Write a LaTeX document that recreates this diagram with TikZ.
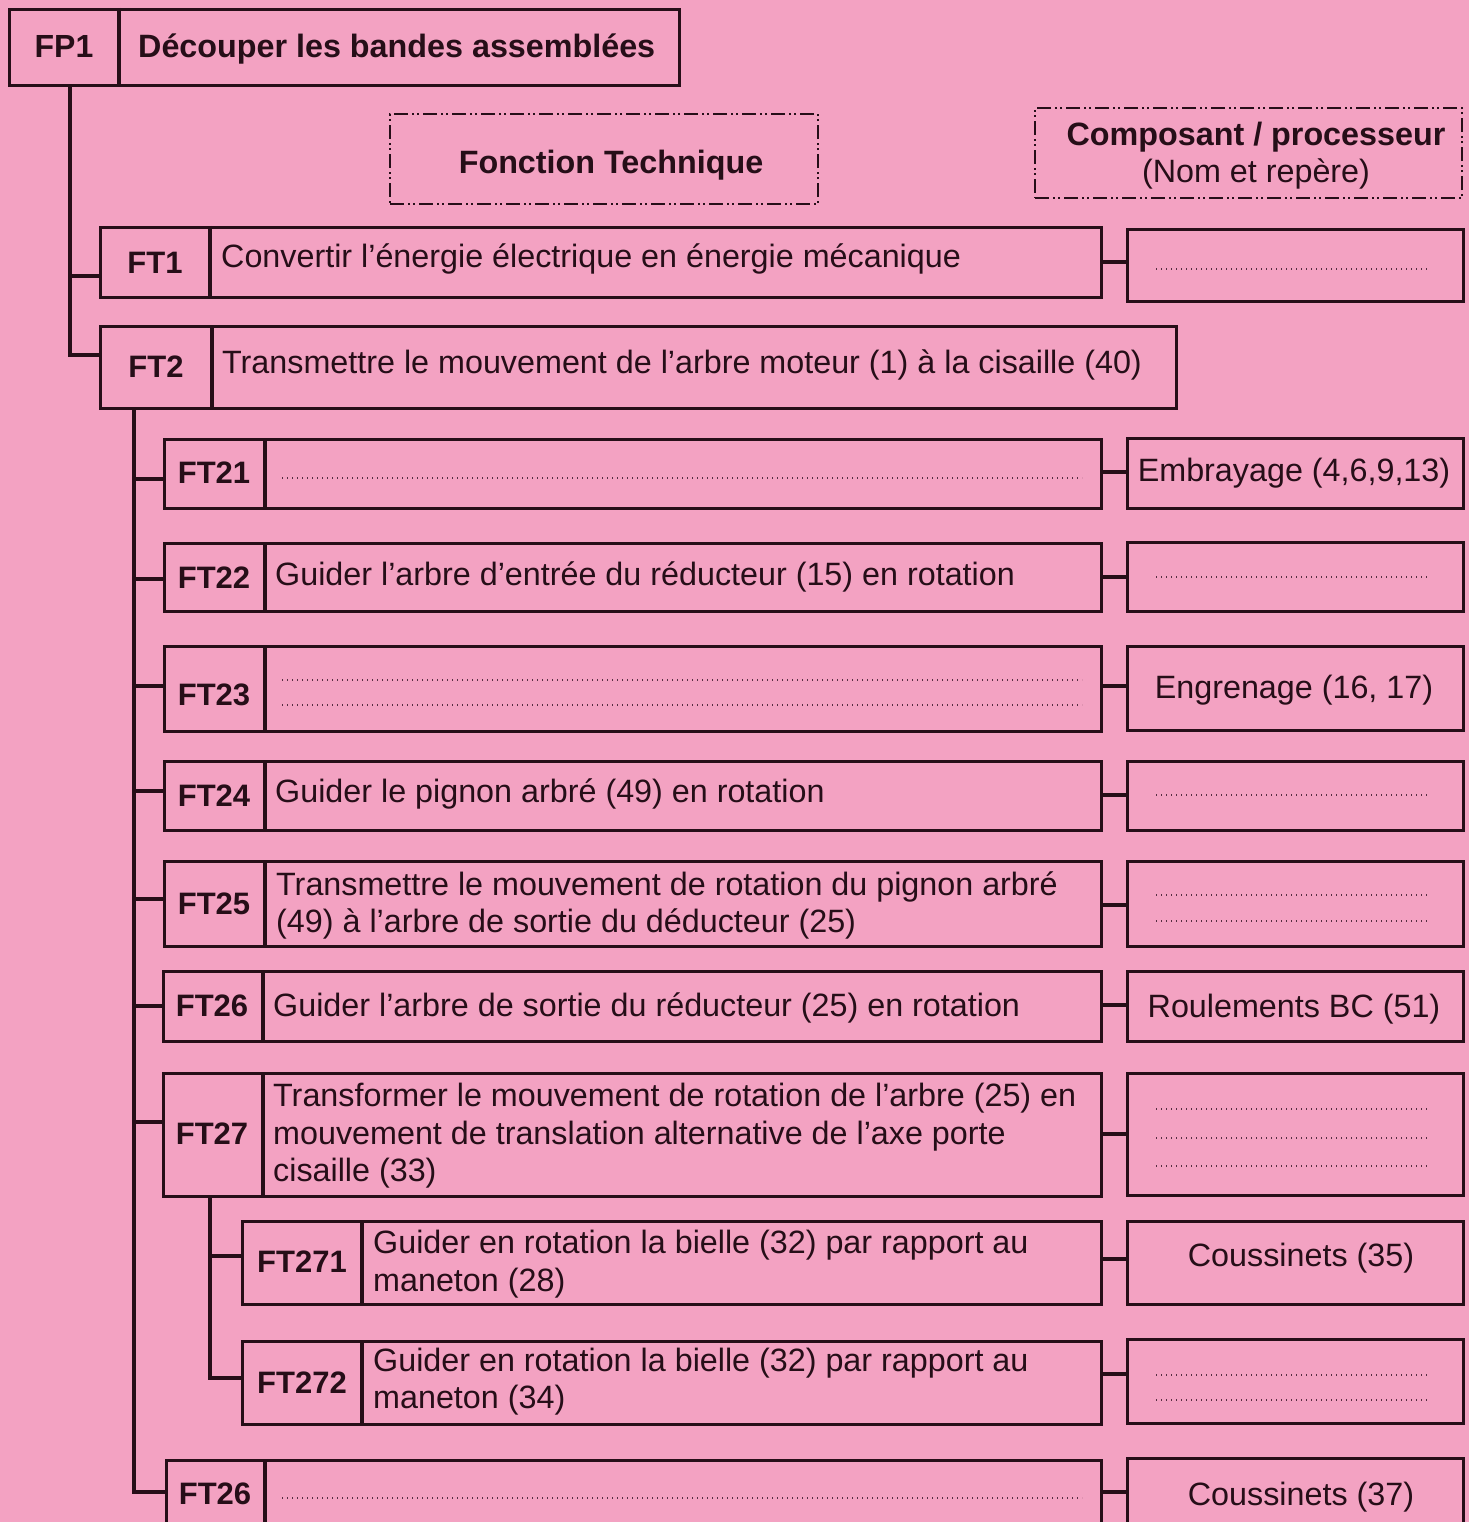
\documentclass[tikz,border=0pt]{standalone}
\usepackage{fontspec}
\setmainfont{Liberation Sans}
\definecolor{bg}{RGB}{243,162,194}
\definecolor{ink}{RGB}{38,14,24}
\definecolor{dotc}{RGB}{85,45,65}
\newcommand\mkbox[5]{\node[box, minimum width={#4-#2}, minimum height={#5-#3}] (#1) at (#2,#3) {};}
\newcommand\mkrow[6]{\mkbox{#1}{#2}{#5}{#4}{#6}\draw[link] (#3,#5) -- (#3,#6);}
\begin{document}
\begin{tikzpicture}[x=1pt,y=-1pt,
  box/.style={draw=ink, line width=3.2pt, rectangle, inner sep=0pt, anchor=north west},
  link/.style={draw=ink, line width=3.2pt},
  lab/.style={font=\fontsize{31}{36}\selectfont\bfseries, text=ink, inner sep=0pt},
  txt/.style={font=\fontsize{32.3}{37.5}\selectfont, text=ink, inner sep=0pt, anchor=base west},
  ctxt/.style={font=\fontsize{32.3}{37.5}\selectfont, text=ink, inner sep=0pt, anchor=base},
  btxt/.style={font=\fontsize{32.3}{37.5}\selectfont\bfseries, text=ink, inner sep=0pt, anchor=base},
  dots/.style={draw=dotc, line width=1.4pt, dash pattern=on 1.4pt off 3.6pt},
  legend/.style={draw=ink, line width=2.3pt, rectangle, inner sep=0pt, anchor=north west,
    dash pattern=on 14pt off 4pt on 2pt off 3pt on 2pt off 4pt},
]
\fill[bg] (0,0) rectangle (1469,1522);
\useasboundingbox (0,0) rectangle (1469,1522);
\clip (0,0) rectangle (1469,1522);

% FP1
\mkrow{fp1}{8}{119}{678}{8}{84}
\node[lab, font=\fontsize{32}{38}\selectfont\bfseries] (fp1l) at (64,46) {FP1};
\node[btxt, anchor=base west] (fp1t) at (138,58) {Découper les bandes assemblées};

% legends
\node[legend, minimum width=428pt, minimum height=90pt] (leg1) at (389,113) {};
\node[btxt] (leg1t) at (611,174) {Fonction Technique};
\node[legend, minimum width=427pt, minimum height=90pt] (leg2) at (1034,107) {};
\node[btxt] (leg2a) at (1256,146) {Composant / processeur};
\node[ctxt] (leg2b) at (1256,183) {(Nom et repère)};

% FT1
\mkrow{ft1}{99}{210}{1100}{226}{296}
\node[lab] (ft1l) at (155,263) {FT1};
\node[txt] (ft1t) at (221,268) {Convertir l’énergie électrique en énergie mécanique};
\mkbox{c1}{1126}{228}{1462}{300}
\draw[dots] (1156,269) -- (1430,269);

% FT2
\mkrow{ft2}{99}{212}{1175}{325}{407}
\node[lab] (ft2l) at (156,367) {FT2};
\node[txt] (ft2t) at (222,373) {Transmettre le mouvement de l’arbre moteur (1) à la cisaille (40)};

% FT21
\mkrow{ft21}{163}{265}{1100}{438}{507}
\node[lab] (ft21l) at (214,473) {FT21};
\draw[dots] (282,478) -- (1082,478);
\mkbox{c21}{1126}{437}{1462}{507}
\node[ctxt] (c21t) at (1294,481) {Embrayage (4,6,9,13)};

% FT22
\mkrow{ft22}{163}{265}{1100}{542}{610}
\node[lab] (ft22l) at (214,578) {FT22};
\node[txt] (ft22t) at (275,585) {Guider l’arbre d’entrée du réducteur (15) en rotation};
\mkbox{c22}{1126}{541}{1462}{610}
\draw[dots] (1156,577) -- (1430,577);

% FT23
\mkrow{ft23}{163}{265}{1100}{645}{730}
\node[lab] (ft23l) at (214,695) {FT23};
\draw[dots] (282,680) -- (1082,680);
\draw[dots] (282,705) -- (1082,705);
\mkbox{c23}{1126}{645}{1462}{729}
\node[ctxt] (c23t) at (1294,698) {Engrenage (16, 17)};

% FT24
\mkrow{ft24}{163}{265}{1100}{760}{829}
\node[lab] (ft24l) at (214,796) {FT24};
\node[txt] (ft24t) at (275,802) {Guider le pignon arbré (49) en rotation};
\mkbox{c24}{1126}{760}{1462}{829}
\draw[dots] (1156,795) -- (1430,795);

% FT25
\mkrow{ft25}{163}{265}{1100}{860}{945}
\node[lab] (ft25l) at (214,904) {FT25};
\node[txt] (ft25a) at (276,895) {Transmettre le mouvement de rotation du pignon arbré};
\node[txt] (ft25b) at (276,932) {(49) à l’arbre de sortie du déducteur (25)};
\mkbox{c25}{1126}{860}{1462}{945}
\draw[dots] (1156,895) -- (1430,895);
\draw[dots] (1156,921) -- (1430,921);

% FT26
\mkrow{ft26}{162}{263}{1100}{970}{1040}
\node[lab] (ft26l) at (212,1006) {FT26};
\node[txt] (ft26t) at (273,1016) {Guider l’arbre de sortie du réducteur (25) en rotation};
\mkbox{c26}{1126}{970}{1462}{1040}
\node[ctxt] (c26t) at (1294,1017) {Roulements BC (51)};

% FT27
\mkrow{ft27}{162}{263}{1100}{1072}{1195}
\node[lab] (ft27l) at (212,1134) {FT27};
\node[txt] (ft27a) at (273,1106) {Transformer le mouvement de rotation de l’arbre (25) en};
\node[txt] (ft27b) at (273,1144) {mouvement de translation alternative de l’axe porte};
\node[txt] (ft27c) at (273,1181) {cisaille (33)};
\mkbox{c27}{1126}{1072}{1462}{1194}
\draw[dots] (1156,1109) -- (1430,1109);
\draw[dots] (1156,1138) -- (1430,1138);
\draw[dots] (1156,1166) -- (1430,1166);

% FT271
\mkrow{ft271}{241}{362}{1100}{1220}{1303}
\node[lab] (ft271l) at (302,1262) {FT271};
\node[txt] (ft271a) at (373,1253) {Guider en rotation la bielle (32) par rapport au};
\node[txt] (ft271b) at (373,1291) {maneton (28)};
\mkbox{c271}{1126}{1220}{1462}{1303}
\node[ctxt] (c271t) at (1301,1266) {Coussinets (35)};

% FT272
\mkrow{ft272}{241}{362}{1100}{1340}{1423}
\node[lab] (ft272l) at (302,1383) {FT272};
\node[txt] (ft272a) at (373,1371) {Guider en rotation la bielle (32) par rapport au};
\node[txt] (ft272b) at (373,1408) {maneton (34)};
\mkbox{c272}{1126}{1338}{1462}{1422}
\draw[dots] (1156,1375) -- (1430,1375);
\draw[dots] (1156,1400) -- (1430,1400);

% FT26 (bottom)
\mkrow{ft26b}{165}{265}{1100}{1459}{1580}
\node[lab] (ft26bl) at (215,1494) {FT26};
\draw[dots] (282,1498) -- (1082,1498);
\mkbox{c26b}{1126}{1457}{1462}{1580}
\node[ctxt] (c26bt) at (1301,1505) {Coussinets (37)};

% tree
\coordinate (j0) at (fp1.south -| 70,0);
\draw[link] (j0) |- (ft1.west |- 0,276);
\draw[link] (j0) |- (ft2.west |- 0,355);
\coordinate (j2) at (ft2.south -| 134,0);
\draw[link] (j2) |- (ft21.west |- 0,479);
\draw[link] (j2) |- (ft22.west |- 0,579);
\draw[link] (j2) |- (ft23.west |- 0,686);
\draw[link] (j2) |- (ft24.west |- 0,791);
\draw[link] (j2) |- (ft25.west |- 0,899);
\draw[link] (j2) |- (ft26.west |- 0,1006);
\draw[link] (j2) |- (ft27.west |- 0,1122);
\draw[link] (j2) |- (ft26b.west |- 0,1492);
\coordinate (j3) at (ft27.south -| 210,0);
\draw[link] (j3) |- (ft271.west |- 0,1256);
\draw[link] (j3) |- (ft272.west |- 0,1378);

% component connectors
\draw[link] (ft1.east |- 0,262) -- (c1.west |- 0,262);
\draw[link] (ft21.east |- 0,472) -- (c21.west |- 0,472);
\draw[link] (ft22.east |- 0,577) -- (c22.west |- 0,577);
\draw[link] (ft23.east |- 0,686) -- (c23.west |- 0,686);
\draw[link] (ft24.east |- 0,795) -- (c24.west |- 0,795);
\draw[link] (ft25.east |- 0,905) -- (c25.west |- 0,905);
\draw[link] (ft26.east |- 0,1005) -- (c26.west |- 0,1005);
\draw[link] (ft27.east |- 0,1134) -- (c27.west |- 0,1134);
\draw[link] (ft271.east |- 0,1259) -- (c271.west |- 0,1259);
\draw[link] (ft272.east |- 0,1374) -- (c272.west |- 0,1374);
\draw[link] (ft26b.east |- 0,1492) -- (c26b.west |- 0,1492);
\end{tikzpicture}
\end{document}
